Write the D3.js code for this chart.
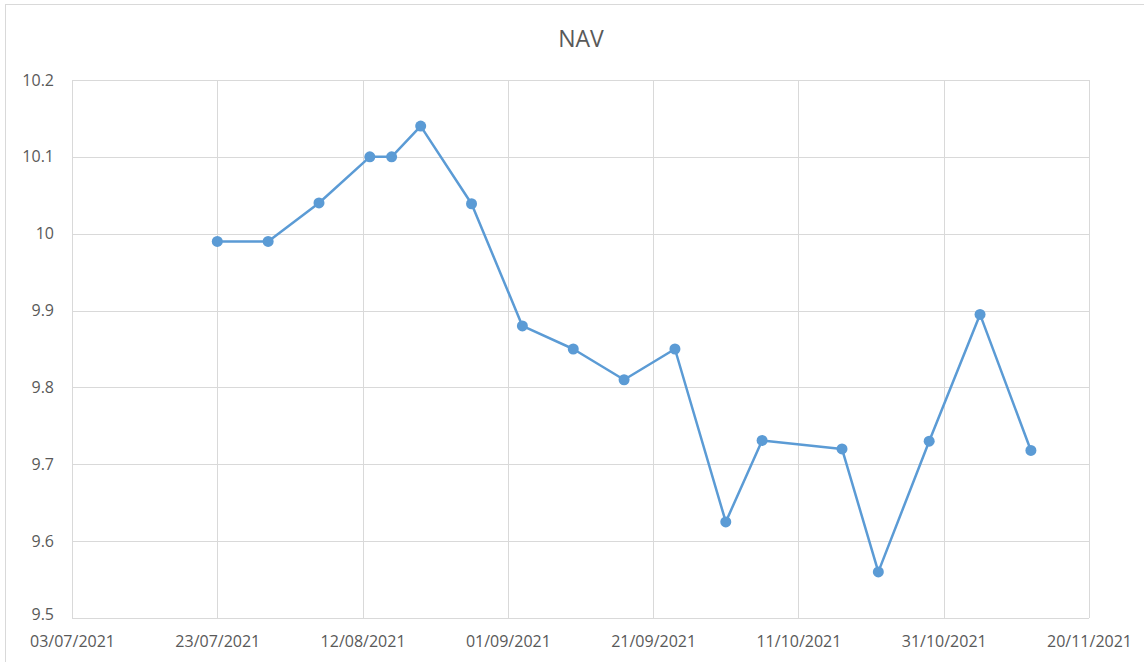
<!DOCTYPE html>
<html>
<head>
<meta charset="utf-8">
<script src="https://cdn.jsdelivr.net/npm/d3@7"></script>
<style>
  body { margin: 0; background: #fff; }
  text { font-family: "Open Sans", "Noto Sans", sans-serif; fill: #595959; }
</style>
</head>
<body>
<div id="chart"></div>
<script>
// data
var dates = ["23/07/2021", "30/07/2021", "06/08/2021", "13/08/2021", "16/08/2021", "20/08/2021",
             "27/08/2021", "03/09/2021", "10/09/2021", "17/09/2021", "24/09/2021", "01/10/2021",
             "06/10/2021", "17/10/2021", "22/10/2021", "29/10/2021", "05/11/2021", "12/11/2021"];
var nav = [9.99, 9.99, 10.04, 10.1, 10.1, 10.14, 10.039, 9.88, 9.85, 9.81, 9.85, 9.625,
           9.731, 9.72, 9.56, 9.73, 9.895, 9.718];
var xTicks = ["03/07/2021", "23/07/2021", "12/08/2021", "01/09/2021", "21/09/2021", "11/10/2021", "31/10/2021", "20/11/2021"];
var yTicks = [9.5, 9.6, 9.7, 9.8, 9.9, 10, 10.1, 10.2];

var parse = d3.timeParse("%d/%m/%Y");
var fmt = d3.timeFormat("%d/%m/%Y");

// sets dimensions of the canvas
var W = 1144, H = 662;
var margin = {top: 80, right: 55, bottom: 44, left: 72};

var svg = d3.select("#chart").append("svg")
    .attr("width", W)
    .attr("height", H);

// outer chart border
svg.append("rect")
    .attr("x", 5.5).attr("y", 4.5)
    .attr("width", W - 5).attr("height", H - 4)
    .attr("fill", "#fff")
    .attr("stroke", "#d9d9d9");

var xScale = d3.scaleTime()
    .domain([parse("03/07/2021"), parse("20/11/2021")])
    .range([margin.left, W - margin.right]);
var yScale = d3.scaleLinear()
    .domain([9.5, 10.2])
    .range([H - margin.bottom, margin.top]);

var tickDates = xTicks.map(parse);

// gridlines
svg.append("g").selectAll("line")
    .data(yTicks)
    .enter().append("line")
    .attr("x1", margin.left).attr("x2", W - margin.right)
    .attr("y1", function(d) { return Math.round(yScale(d)) + 0.5; })
    .attr("y2", function(d) { return Math.round(yScale(d)) + 0.5; })
    .attr("stroke", "#d9d9d9");

svg.append("g").selectAll("line")
    .data(tickDates)
    .enter().append("line")
    .attr("y1", margin.top).attr("y2", H - margin.bottom)
    .attr("x1", function(d) { return Math.round(xScale(d)) + 0.5; })
    .attr("x2", function(d) { return Math.round(xScale(d)) + 0.5; })
    .attr("stroke", "#d9d9d9");

// axes labels
var xAxis = d3.axisBottom(xScale)
    .tickValues(tickDates)
    .tickFormat(fmt)
    .tickSize(0)
    .tickPadding(18);
var gx = svg.append("g")
    .attr("transform", "translate(0," + (H - margin.bottom) + ")")
    .call(xAxis);
gx.select(".domain").remove();
gx.selectAll("text").attr("font-size", "16px").attr("font-family", null).attr("fill", "#595959");

var yAxis = d3.axisLeft(yScale)
    .tickValues(yTicks)
    .tickFormat(function(d) { return d3.format("")(+d.toFixed(1)); })
    .tickSize(0)
    .tickPadding(18);
var gy = svg.append("g")
    .attr("transform", "translate(" + margin.left + ",0)")
    .call(yAxis);
gy.select(".domain").remove();
gy.selectAll("text").attr("font-size", "16px").attr("font-family", null).attr("fill", "#595959");
gy.selectAll(".tick").filter(function(d) { return d === 9.5; })
    .select("text").attr("dy", "0.1em");

// the line
var points = dates.map(function(d, i) { return {date: parse(d), value: nav[i]}; });

var line = d3.line()
    .x(function(d) { return xScale(d.date); })
    .y(function(d) { return yScale(d.value); });

svg.append("path")
    .datum(points)
    .attr("d", line)
    .attr("fill", "none")
    .attr("stroke", "#5b9bd5")
    .attr("stroke-width", 2.5)
    .attr("stroke-linejoin", "round");

svg.append("g").selectAll("circle")
    .data(points)
    .enter().append("circle")
    .attr("cx", function(d) { return xScale(d.date); })
    .attr("cy", function(d) { return yScale(d.value); })
    .attr("r", 5.5)
    .attr("fill", "#5b9bd5");

// title
svg.append("text")
    .attr("x", 581)
    .attr("y", 47)
    .attr("text-anchor", "middle")
    .attr("font-size", "23px")
    .text("NAV");
</script>
</body>
</html>
